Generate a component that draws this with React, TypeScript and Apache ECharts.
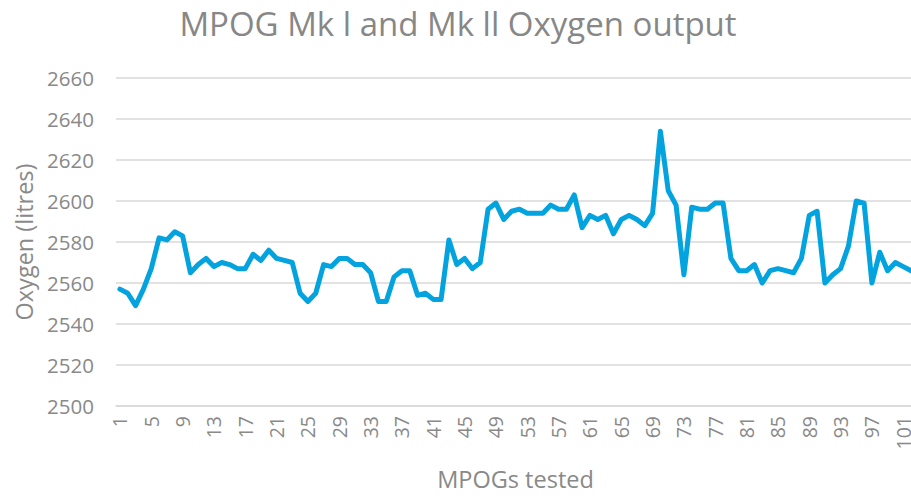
import React, { useEffect, useRef } from "react";
import * as echarts from "echarts";

const categories: string[] = Array.from({ length: 102 }, (_, i) => String(i + 1));

const oxygen: number[] = [
  2557, 2555, 2549, 2557, 2567, 2582, 2581, 2585, 2583, 2565,
  2569, 2572, 2568, 2570, 2569, 2567, 2567, 2574, 2571, 2576,
  2572, 2571, 2570, 2555, 2551, 2555, 2569, 2568, 2572, 2572,
  2569, 2569, 2565, 2551, 2551, 2563, 2566, 2566, 2554, 2555,
  2552, 2552, 2581, 2569, 2572, 2567, 2570, 2596, 2599, 2591,
  2595, 2596, 2594, 2594, 2594, 2598, 2596, 2596, 2603, 2587,
  2593, 2591, 2593, 2584, 2591, 2593, 2591, 2588, 2594, 2634,
  2605, 2598, 2564, 2597, 2596, 2596, 2599, 2599, 2572, 2566,
  2566, 2569, 2560, 2566, 2567, 2566, 2565, 2572, 2593, 2595,
  2560, 2564, 2567, 2578, 2600, 2599, 2560, 2575, 2566, 2570,
  2568, 2566,
];

const yMin = 2500;
const yMax = 2660;
const yStep = 20;

const FONT = "'Open Sans', sans-serif";
const GREY = "#898989";

export default function App() {
  const ref = useRef<HTMLDivElement>(null);
  useEffect(() => {
    if (!ref.current) return;
    const chart = echarts.init(ref.current, undefined, { renderer: "svg" });
    chart.setOption({
      animation: false,
      backgroundColor: "#ffffff",
      textStyle: { fontFamily: FONT },
      graphic: [
        {
          type: "text",
          x: 458,
          y: 23,
          style: {
            text: "MPOG Mk l and Mk ll Oxygen output",
            fontSize: 33,
            fontFamily: FONT,
            fill: "#878787",
            textAlign: "center",
            textVerticalAlign: "middle",
          },
        },
      ],
      grid: {
        left: 116,
        right: 45,
        top: 78,
        bottom: 90,
        outerBoundsMode: "none",
        containLabel: false,
      },
      xAxis: {
        type: "category",
        data: categories,
        boundaryGap: true,
        name: "MPOGs tested",
        nameLocation: "middle",
        nameGap: 61,
        nameTextStyle: { fontSize: 23.5, color: GREY, fontFamily: FONT },
        axisTick: { show: false },
        axisLine: { lineStyle: { color: "#d9d9d9", width: 1.5 } },
        axisLabel: {
          interval: 3,
          rotate: 90,
          fontSize: 19.5,
          lineHeight: 15,
          color: GREY,
          margin: 10,
          fontFamily: FONT,
        },
      },
      yAxis: {
        type: "value",
        min: yMin,
        max: yMax,
        interval: yStep,
        name: "Oxygen (litres)",
        nameLocation: "middle",
        nameGap: 78,
        nameTextStyle: { fontSize: 23.5, color: GREY, fontFamily: FONT },
        axisLine: { show: false },
        axisTick: { show: false },
        axisLabel: {
          fontSize: 20.5,
          color: GREY,
          margin: 22,
          fontFamily: FONT,
          formatter: (v: number) => String(v),
        },
        splitLine: { lineStyle: { color: "#d9d9d9", width: 1.5 } },
      },
      series: [
        {
          type: "line",
          data: oxygen,
          showSymbol: false,
          symbol: "none",
          lineStyle: { color: "#02A3DF", width: 5, cap: "round", join: "round" },
          itemStyle: { color: "#02A3DF" },
        },
      ],
    });
    return () => chart.dispose();
  }, []);
  return (
    <div
      style={{
        position: "fixed",
        left: 0,
        top: 0,
        width: 911,
        height: 496,
        overflow: "hidden",
        background: "#fff",
      }}
    >
      <div ref={ref} style={{ width: 960, height: 496 }} />
    </div>
  );
}
